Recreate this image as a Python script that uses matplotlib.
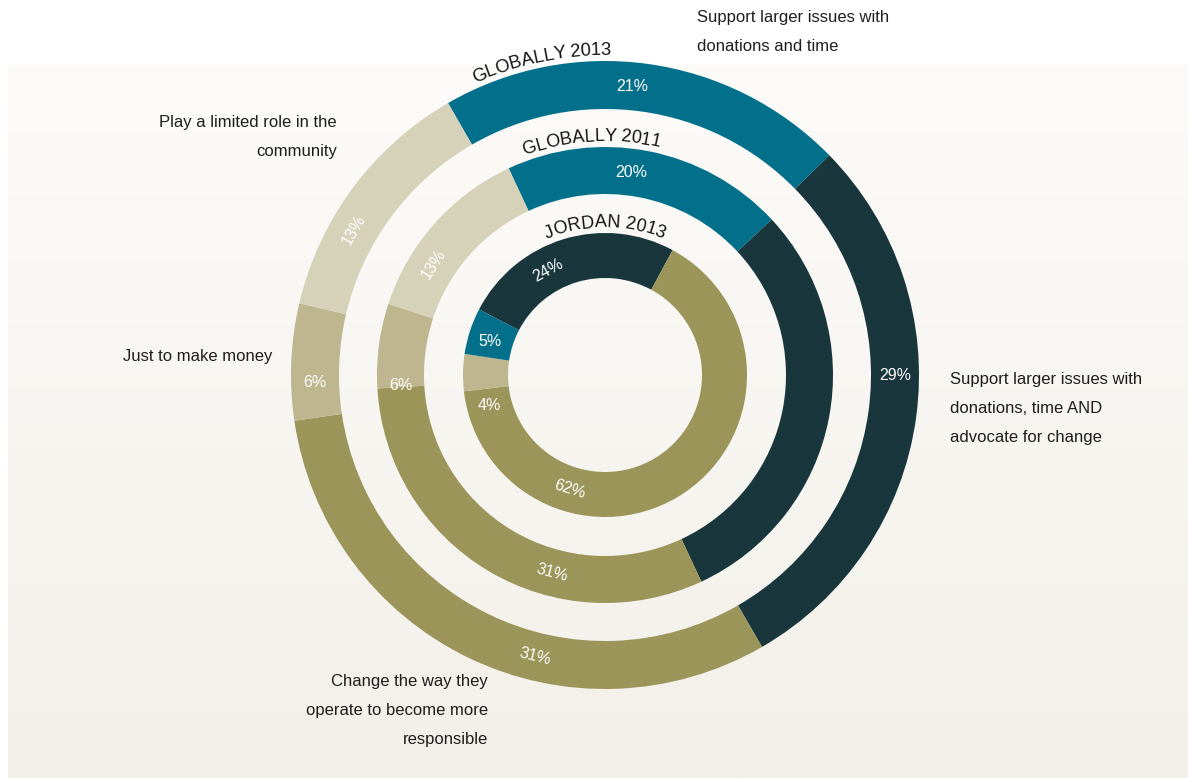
import numpy as np
import matplotlib
matplotlib.use('Agg')
import matplotlib.pyplot as plt
from matplotlib.textpath import TextToPath
from matplotlib.font_manager import FontProperties

########################################
#   Data
########################################

ringNames = ['GLOBALLY 2013', 'GLOBALLY 2011', 'JORDAN 2013']

# slice order goes clockwise from the start of each ring
outerCats = ['larger issues', 'advocate', 'change way', 'money', 'limited role']
outerVals = [21, 29, 31, 6, 13]
outerLabels = ['21%', '29%', '31%', '6%', '13%']

middleCats = ['larger issues', 'advocate', 'change way', 'money', 'limited role']
middleVals = [20, 30, 31, 6, 13]
middleLabels = ['20%', '', '31%', '6%', '13%']

innerCats = ['advocate', 'change way', 'money', 'larger issues']
innerVals = [24, 62, 4, 5]
innerLabels = ['24%', '62%', '4%', '5%']

captions = [
    'Support larger issues with\ndonations and time',
    'Play a limited role in the\ncommunity',
    'Just to make money',
    'Support larger issues with\ndonations, time AND\nadvocate for change',
    'Change the way they\noperate to become more\nresponsible',
]

########################################
#   Style
########################################

colorMap = {
    'larger issues': '#03708b',
    'advocate': '#18363b',
    'change way': '#9b955a',
    'money': '#bdb68f',
    'limited role': '#d6d2b9',
}

W, H = 1188, 778
cx, cy = 605, H - 375
font = 'Liberation Sans'

plt.rcParams['font.family'] = [font, 'DejaVu Sans']

fig = plt.figure(figsize=(W / 100, H / 100), dpi=100)
ax = fig.add_axes([0, 0, 1, 1])

# soft beige panel behind the rings
grad = np.linspace(0, 1, 256).reshape(-1, 1)
top = np.array([252, 251, 249]) / 255
bot = np.array([243, 240, 233]) / 255
img = top + (bot - top) * grad[..., None]
ax.imshow(img, extent=[8, W, 0, H - 65], origin='upper', aspect='auto', zorder=0)


def ring(vals, cats, labels, radius, width, start, labelAngles, rotate):
    ax.pie(vals, colors=[colorMap[c] for c in cats], radius=radius, center=(cx, cy),
           startangle=90 - start, counterclock=False,
           wedgeprops=dict(width=width, linewidth=0), frame=True)
    rmid = radius - width / 2
    for lab, ang, rot in zip(labels, labelAngles, rotate):
        if not lab:
            continue
        t = np.radians(ang)
        r = -ang if rot else 0
        r = (r + 180) % 360 - 180
        if r > 90:
            r -= 180
        if r < -90:
            r += 180
        ax.text(cx + rmid * np.sin(t), cy + rmid * np.cos(t), lab, color='white',
                fontsize=11.5, ha='center', va='center', rotation=r, zorder=5)


def curvedText(s, radius, centerAngle, size):
    prop = FontProperties(family=font, size=size * 100 / 72)
    ttp = TextToPath()
    total = ttp.get_text_width_height_descent(s, prop, ismath=False)[0]
    for i, ch in enumerate(s):
        if ch == ' ':
            continue
        before = ttp.get_text_width_height_descent(s[:i], prop, ismath=False)[0] if i else 0
        w = ttp.get_text_width_height_descent(ch, prop, ismath=False)[0]
        mid = before + w / 2 - total / 2
        ang = centerAngle + np.degrees(mid / radius)
        t = np.radians(ang)
        ax.text(cx + radius * np.sin(t), cy + radius * np.cos(t), ch, fontsize=size,
                color='#141414', ha='center', va='baseline', rotation=-ang,
                rotation_mode='anchor', zorder=6)


ring(outerVals, outerCats, outerLabels, 314, 48, -30,
     [5.4, 90, 194, 268.5, 300], [False, False, True, False, True])
ring(middleVals, middleCats, middleLabels, 228, 47, -25,
     [7.5, 95, 195, 267, 303], [False, False, True, False, True])
ring(innerVals, innerCats, innerLabels, 142, 45, -62.5,
     [331.4, 197, 255.4, 286.5], [True, True, False, False])

curvedText(ringNames[0], 320, -11.5, 13.2)
curvedText(ringNames[1], 234, -3.5, 13)
curvedText(ringNames[2], 148, 0, 13)

# captions next to the rings
capStyle = dict(fontsize=12, color='#1e1e1e', linespacing=2.15)
ax.text(697, H - 10, captions[0], ha='left', va='top', **capStyle)
ax.text(337, H - 115, captions[1], ha='right', va='top', **capStyle)
ax.text(272, H - 349, captions[2], ha='right', va='top', **capStyle)
ax.text(950, H - 372, captions[3], ha='left', va='top', **capStyle)
ax.text(488, H - 674, captions[4], ha='right', va='top', **capStyle)

ax.set_xlim(0, W)
ax.set_ylim(0, H)
ax.set_aspect('auto')
ax.axis('off')

fig.savefig('out.png', dpi=100, facecolor='white')
